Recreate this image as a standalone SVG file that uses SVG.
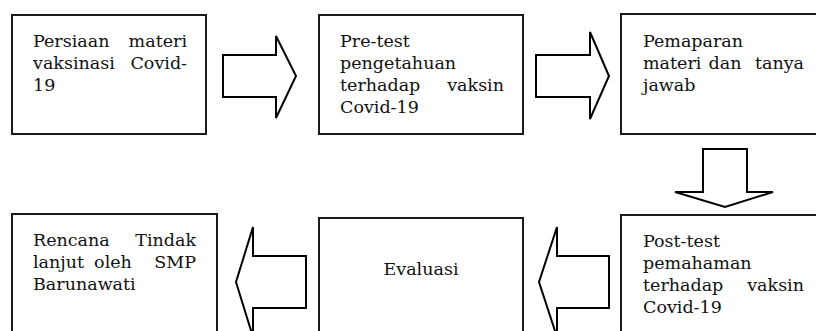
<svg xmlns="http://www.w3.org/2000/svg" width="816" height="331" viewBox="0 0 816 331">
<style>
.box{fill:#fff;stroke:#1a1a1a;stroke-width:2}
.arr{fill:#fff;stroke:#000;stroke-width:2;stroke-linejoin:miter}
text{font-family:"DejaVu Serif","Liberation Serif",serif;font-size:17.5px;fill:#111}
.e{text-anchor:end}.m{text-anchor:middle}
</style>
<rect width="816" height="331" fill="#fff"/>
<g id="connectors">
<polygon class="arr" points="223,55 276,55 276,36 296,76 276,118 276,97 223,97"/>
<polygon class="arr" points="536,55 590,55 590,32 609,76 590,119 590,97 536,97"/>
<polygon class="arr" points="703,149 747,149 747,192 773,192 725,207 675,192 703,192"/>
<polygon class="arr" points="609,256 557,256 557,227 539,282 557,337 557,308 609,308"/>
<polygon class="arr" points="306,256 253,256 253,227 236,282 253,337 253,308 306,308"/>
</g>
<g id="n1">
<rect class="box" x="12" y="15" width="194" height="119"/>
<text x="33" y="47">Persiaan</text><text class="e" x="187" y="47">materi</text>
<text x="33" y="69">vaksinasi</text><text class="e" x="187" y="69">Covid-</text>
<text x="33" y="91">19</text>
</g>
<g id="n2">
<rect class="box" x="319" y="15" width="204" height="119"/>
<text x="340" y="47">Pre-test</text>
<text x="340" y="69">pengetahuan</text>
<text x="340" y="91">terhadap</text><text class="e" x="504" y="91">vaksin</text>
<text x="340" y="113">Covid-19</text>
</g>
<g id="n3">
<rect class="box" x="621" y="14" width="205" height="120"/>
<text x="643" y="47">Pemaparan</text>
<text x="643" y="69">materi</text><text class="m" x="725" y="69">dan</text><text class="e" x="804" y="69">tanya</text>
<text x="643" y="91">jawab</text>
</g>
<g id="n4">
<rect class="box" x="621" y="215" width="205" height="130"/>
<text x="643" y="246.5">Post-test</text>
<text x="643" y="268.5">pemahaman</text>
<text x="643" y="290.5">terhadap</text><text class="e" x="804" y="290.5">vaksin</text>
<text x="643" y="312.5">Covid-19</text>
</g>
<g id="n5">
<rect class="box" x="319" y="218" width="204" height="130"/>
<text class="m" x="421" y="275">Evaluasi</text>
</g>
<g id="n6">
<rect class="box" x="12" y="214" width="205" height="130"/>
<text x="33" y="246">Rencana</text><text class="e" x="196" y="246">Tindak</text>
<text x="33" y="268">lanjut</text><text class="m" x="113" y="268">oleh</text><text class="e" x="196" y="268">SMP</text>
<text x="33" y="290">Barunawati</text>
</g>
</svg>
